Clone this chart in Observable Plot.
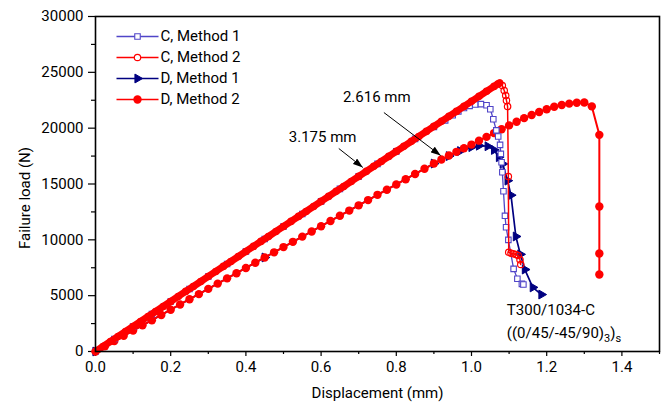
<!DOCTYPE html>
<html><head><meta charset="utf-8">
<script src="https://cdn.jsdelivr.net/npm/d3@7"></script>
<script src="https://cdn.jsdelivr.net/npm/@observablehq/plot@0.6"></script>
<style>
html,body{margin:0;padding:0;background:#fff;}
#chart{width:664px;height:405px;}
</style></head><body><div id="chart"></div>
<script>
// ---- Data ----
const c1Disp = [0, 0.05, 0.1, 0.15, 0.2, 0.25, 0.3, 0.35, 0.4, 0.45, 0.5, 0.55, 0.6, 0.65, 0.7, 0.75, 0.8, 0.85, 0.9, 0.93, 0.95, 0.965, 0.98, 0.995, 1.01, 1.025, 1.04, 1.05, 1.058, 1.066, 1.071, 1.076, 1.078, 1.08, 1.082, 1.085, 1.089, 1.092, 1.098, 1.112, 1.122, 1.134, 1.138];
const c1Load = [0, 1120, 2240, 3360, 4480, 5600, 6720, 7840, 8960, 10080, 11200, 12320, 13440, 14560, 15680, 16800, 17920, 19040, 20100, 20700, 21150, 21500, 21800, 22000, 22120, 22150, 22050, 21700, 20800, 19800, 19250, 18500, 17700, 16950, 16050, 14350, 12150, 11130, 10000, 7400, 6510, 6060, 6000];

const c2Disp = [0, 0.02, 0.04, 0.06, 0.08, 0.10, 0.12, 0.14, 0.16, 0.18, 0.20, 0.22, 0.24, 0.26, 0.28, 0.30, 0.32, 0.34, 0.36, 0.38, 0.40, 0.42, 0.44, 0.46, 0.48, 0.50, 0.52, 0.54, 0.56, 0.58, 0.60, 0.62, 0.64, 0.66, 0.68, 0.70, 0.72, 0.74, 0.76, 0.78, 0.80, 0.82, 0.84, 0.86, 0.88, 0.90, 0.92, 0.94, 0.96, 0.98, 1.00, 1.02, 1.04, 1.06, 1.07, 1.075, 1.082, 1.087, 1.091, 1.093, 1.096, 1.098, 1.099, 1.105, 1.111, 1.118, 1.124, 1.129, 1.131];
const c2Load = [0, 450, 900, 1340, 1790, 2240, 2690, 3140, 3580, 4030, 4480, 4930, 5380, 5820, 6270, 6720, 7170, 7620, 8060, 8510, 8960, 9410, 9860, 10300, 10750, 11200, 11650, 12100, 12540, 12990, 13440, 13890, 14340, 14780, 15230, 15680, 16130, 16580, 17020, 17470, 17920, 18370, 18820, 19260, 19710, 20160, 20610, 21060, 21500, 21950, 22400, 22850, 23300, 23740, 23950, 24050, 23820, 23370, 22920, 22480, 21940, 15670, 8890, 8800, 8750, 8690, 8600, 8210, 7790];

const d1Disp = [0, 0.45, 0.9, 0.94, 0.97, 1.0, 1.02, 1.043, 1.06, 1.073, 1.083, 1.096, 1.105, 1.118, 1.13, 1.142, 1.163, 1.186];
const d1Load = [0, 8420, 16830, 17500, 17950, 18300, 18430, 18380, 18050, 17400, 16800, 15300, 14000, 10300, 8700, 7340, 5740, 5100];

const d2Disp = [0, 0.025, 0.05, 0.075, 0.1, 0.125, 0.15, 0.175, 0.2, 0.225, 0.25, 0.275, 0.3, 0.325, 0.35, 0.375, 0.4, 0.425, 0.45, 0.475, 0.5, 0.525, 0.55, 0.575, 0.6, 0.625, 0.65, 0.675, 0.7, 0.725, 0.75, 0.775, 0.8, 0.825, 0.85, 0.875, 0.9, 0.92, 0.94, 0.96, 0.98, 1.0, 1.02, 1.04, 1.06, 1.08, 1.10, 1.12, 1.14, 1.16, 1.18, 1.20, 1.22, 1.24, 1.26, 1.28, 1.30, 1.32, 1.34, 1.34, 1.34, 1.34];
const d2Load = [0, 470, 930, 1400, 1870, 2340, 2800, 3270, 3740, 4210, 4680, 5140, 5610, 6080, 6550, 7010, 7480, 7950, 8420, 8880, 9350, 9820, 10290, 10750, 11220, 11690, 12160, 12620, 13090, 13560, 14030, 14490, 14960, 15430, 15900, 16360, 16830, 17200, 17550, 17880, 18200, 18530, 18880, 19220, 19560, 19900, 20250, 20580, 20900, 21180, 21450, 21700, 21920, 22080, 22200, 22270, 22300, 21950, 19400, 12980, 8770, 6900];

const seriesNames = ["C, Method 1", "C, Method 2", "D, Method 1", "D, Method 2"];

const xTicks = [0, 0.2, 0.4, 0.6, 0.8, 1.0, 1.2, 1.4];
const xMinorTicks = [0.1, 0.3, 0.5, 0.7, 0.9, 1.1, 1.3, 1.5];
const yTicks = [0, 5000, 10000, 15000, 20000, 25000, 30000];
const yMinorTicks = [2500, 7500, 12500, 17500, 22500, 27500];

const annotTexts = ["2.616 mm", "3.175 mm"];
const annotX = [0.748, 0.604];
const annotY = [22770, 19190];
const arrowX1 = [0.767, 0.647];
const arrowY1 = [21400, 18180];
const arrowX2 = [0.918, 0.711];
const arrowY2 = [17550, 16480];

const noteTexts = ["T300/1034-C", "((0/45/-45/90)3)s"];
const noteX = [1.094, 1.094];
const noteY = [3670, 1610];

// ---- Tables ----
const toRows = (xs, ys) => xs.map((d, i) => ({d, L: ys[i]}));
const c1 = toRows(c1Disp, c1Load);
const c2 = toRows(c2Disp, c2Load);
const d1 = toRows(d1Disp, d1Load);
const d2 = toRows(d2Disp, d2Load);
const c2Band = c2.filter(p => p.d <= 1.075);
const annots = annotTexts.map((t, i) => ({t, x: annotX[i], y: annotY[i]}));
const arrows = arrowX1.map((x1, i) => ({x1, y1: arrowY1[i], x2: arrowX2[i], y2: arrowY2[i]}));
const notes = noteTexts.map((t, i) => ({t, x: noteX[i], y: noteY[i]}));

// ---- Styles ----
const FS = 15;
const BLUE = "#5045c8", RED = "#ff0000", NAVY = "#000080";
const rightTriangle = {
  draw(ctx, size) {
    const s = Math.sqrt(size * 4 / Math.sqrt(3));
    const h = s * Math.sqrt(3) / 2;
    ctx.moveTo(2 * h / 3, 0);
    ctx.lineTo(-h / 3, -s / 2);
    ctx.lineTo(-h / 3, s / 2);
    ctx.closePath();
  }
};
const legendLine = { draw(ctx) { ctx.moveTo(-21, 0); ctx.lineTo(21, 0); } };
const legendStyles = [
  {color: BLUE, symbol: "square", r: 3.1, fill: "white", sw: 1.1},
  {color: RED, symbol: "circle", r: 3.2, fill: "white", sw: 1.2},
  {color: NAVY, symbol: rightTriangle, r: 3.3, fill: NAVY, sw: 1},
  {color: RED, symbol: "circle", r: 4.2, fill: RED, sw: 0}
];

const legendMarks = seriesNames.flatMap((name, i) => {
  const s = legendStyles[i];
  const dy = 20 + 21 * i;
  return [
    Plot.dot([name], {frameAnchor: "top-left", dx: 42, dy, symbol: legendLine, stroke: s.color, strokeWidth: 1.5, fill: "none"}),
    Plot.dot([name], {frameAnchor: "top-left", dx: 42, dy, symbol: s.symbol, r: s.r, fill: s.fill, stroke: s.color, strokeWidth: s.sw}),
    Plot.text([name], {frameAnchor: "top-left", dx: 65, dy, text: d => d, textAnchor: "start", lineAnchor: "middle", fontSize: FS, fill: "black"})
  ];
});

const plot = Plot.plot({
  width: 664,
  height: 405,
  marginLeft: 95,
  marginRight: 5,
  marginTop: 16,
  marginBottom: 54,
  style: {fontFamily: "Roboto, 'DejaVu Sans', sans-serif", fontSize: FS + "px", color: "black", background: "white"},
  x: {domain: [0, 1.5]},
  y: {domain: [0, 30000]},
  marks: [
    Plot.axisX(xTicks, {tickSize: 5, tickPadding: 5, strokeWidth: 1.2, tickFormat: d3.format(".1f"), label: null, fontSize: FS}),
    Plot.axisX(xMinorTicks, {tickSize: 3, strokeWidth: 1.2, tickFormat: () => "", label: null}),
    Plot.axisY(yTicks, {tickSize: 7, tickPadding: 5, strokeWidth: 1.2, tickFormat: d3.format("d"), label: null, fontSize: FS}),
    Plot.axisY(yMinorTicks, {tickSize: 4, strokeWidth: 1.2, tickFormat: () => "", label: null}),

    // D, Method 1
    Plot.line(d1, {x: "d", y: "L", stroke: NAVY, strokeWidth: 1.7}),
    Plot.dot(d1, {x: "d", y: "L", symbol: rightTriangle, r: 3.3, fill: NAVY, stroke: NAVY, strokeWidth: 1}),
    // D, Method 2
    Plot.line(d2, {x: "d", y: "L", stroke: RED, strokeWidth: 2}),
    Plot.dot(d2, {x: "d", y: "L", r: 4.2, fill: RED}),
    // C, Method 1
    Plot.line(c1, {x: "d", y: "L", stroke: BLUE, strokeWidth: 1.3}),
    Plot.dot(c1, {x: "d", y: "L", symbol: "square", r: 3.1, fill: "white", stroke: BLUE, strokeWidth: 1.1}),
    // C, Method 2 (dense open circles forming a band)
    Plot.line(c2Band, {x: "d", y: "L", stroke: RED, strokeWidth: 7}),
    Plot.line(c2, {x: "d", y: "L", stroke: RED, strokeWidth: 1.5}),
    Plot.dot(c2, {x: "d", y: "L", r: 3.2, fill: "none", stroke: RED, strokeWidth: 1.2}),

    // annotations
    Plot.link(arrows, {x1: "x1", y1: "y1", x2: "x2", y2: "y2", stroke: "black", strokeWidth: 1}),
    Plot.text(annots, {x: "x", y: "y", text: "t", fontSize: FS, fill: "black"}),
    Plot.text(notes, {x: "x", y: "y", text: "t", textAnchor: "start", fontSize: FS, fill: "black"}),

    // axis titles
    Plot.text(["Failure load (N)"], {frameAnchor: "left", dx: -70, dy: 14, rotate: -90, textAnchor: "middle", lineAnchor: "middle", text: d => d, fontSize: FS, fill: "black"}),
    Plot.text(["Displacement (mm)"], {frameAnchor: "bottom", dy: 42, textAnchor: "middle", lineAnchor: "middle", text: d => d, fontSize: FS, fill: "black"}),

    ...legendMarks,
    Plot.frame({stroke: "black", strokeWidth: 1.6})
  ]
});

document.getElementById("chart").appendChild(plot);

// filled arrowheads
const svg = d3.select(plot);
const defs = svg.insert("defs", ":first-child");
defs.append("marker")
  .attr("id", "ahead")
  .attr("viewBox", "0 0 10 7")
  .attr("refX", 10).attr("refY", 3.5)
  .attr("markerWidth", 10).attr("markerHeight", 7)
  .attr("markerUnits", "userSpaceOnUse")
  .attr("orient", "auto")
  .append("path").attr("d", "M0,0L10,3.5L0,7Z").attr("fill", "black");
svg.selectAll('g[aria-label="link"] path').attr("marker-end", "url(#ahead)");

// subscripts in the laminate formula
svg.selectAll("text").filter(function() { return d3.select(this).text() === noteTexts[1]; }).each(function() {
  const full = d3.select(this).text();       // "((0/45/-45/90)3)s"
  const i = full.lastIndexOf(")", full.length - 3);
  const t = d3.select(this).text(null);
  t.append("tspan").text(full.slice(0, i + 1));
  t.append("tspan").attr("font-size", 11).attr("dy", 4).text(full.slice(i + 1, i + 2));
  t.append("tspan").attr("dy", -4).text(full.slice(i + 2, i + 3));
  t.append("tspan").attr("font-size", 11).attr("dy", 4).text(full.slice(i + 3));
});
</script>
</body></html>
